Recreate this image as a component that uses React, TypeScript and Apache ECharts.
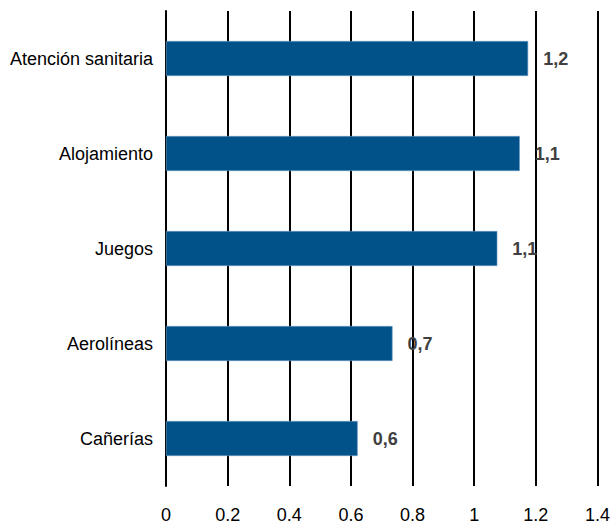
import React, { useEffect, useRef } from "react";
import * as echarts from "echarts";

const categories = ["Atención sanitaria", "Alojamiento", "Juegos", "Aerolíneas", "Cañerías"];
const values = [1.175, 1.148, 1.075, 0.735, 0.622];
const xTicks = [0, 0.2, 0.4, 0.6, 0.8, 1, 1.2, 1.4];

const FONT = "Liberation Sans, Arial, sans-serif";

export default function App() {
  const ref = useRef<HTMLDivElement>(null);
  useEffect(() => {
    document.body.style.margin = "0";
    if (!ref.current) return;
    const chart = echarts.init(ref.current, null, { renderer: "svg" });
    chart.setOption({
      animation: false,
      grid: { left: 166, right: 12, top: 11, bottom: 35, containLabel: false },
      xAxis: {
        type: "value",
        min: xTicks[0],
        max: xTicks[xTicks.length - 1],
        interval: 0.2,
        axisLine: { show: false },
        axisTick: { show: false },
        splitLine: { show: true, lineStyle: { color: "#000", width: 2 } },
        axisLabel: {
          margin: 20,
          color: "#000",
          fontSize: 18,
          fontFamily: FONT,
          formatter: (v: number) => String(Math.round(v * 10) / 10),
        },
      },
      yAxis: {
        type: "category",
        inverse: true,
        data: categories,
        axisLine: { show: true, lineStyle: { color: "#000", width: 2 } },
        axisTick: { show: false },
        axisLabel: {
          margin: 13,
          color: "#000",
          fontSize: 18,
          fontFamily: FONT,
        },
      },
      series: [
        {
          type: "bar",
          data: values,
          barWidth: 35,
          itemStyle: { color: "#02528a", borderColor: "#6f9cc4", borderWidth: 0.6 },
          label: {
            show: true,
            position: "right",
            distance: 15,
            color: "#404040",
            fontWeight: "bold",
            fontSize: 18,
            fontFamily: FONT,
            formatter: (p: any) => (Math.round(p.value * 10) / 10).toFixed(1).replace(".", ","),
          },
        },
      ],
    });
    return () => chart.dispose();
  }, []);
  return <div ref={ref} style={{ width: 613, height: 524 }} />;
}
